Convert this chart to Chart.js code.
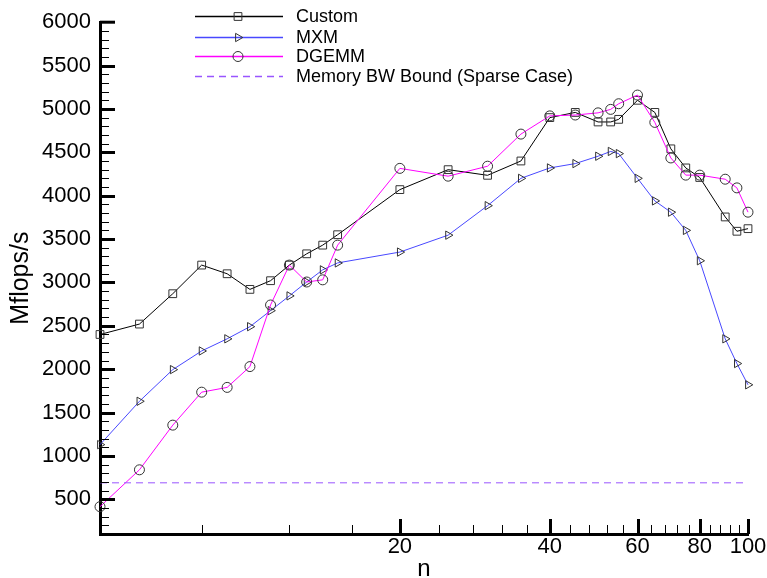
<!DOCTYPE html>
<html>
<head>
<meta charset="utf-8">
<script src="https://cdn.jsdelivr.net/npm/chart.js@4.4.1/dist/chart.umd.min.js"></script>
<style>
  html, body { margin: 0; padding: 0; background: #ffffff; }
  #wrap { width: 767px; height: 578px; position: relative; }
</style>
</head>
<body>
<div id="wrap"><canvas id="c" width="767" height="578"></canvas></div>
<script>
// ---- data ----
const nValues = [5, 6, 7, 8, 9, 10, 11, 12, 13, 14, 15, 20, 25, 30, 35, 40, 45, 50, 53, 55, 60, 65, 70, 75, 80, 90, 95, 100];
const customValues = [2400, 2520, 2870, 3200, 3100, 2920, 3020, 3200, 3330, 3430, 3550, 4070, 4300, 4235, 4400, 4900, 4960, 4850, 4850, 4880, 5100, 4960, 4540, 4320, 4210, 3755, 3590, 3620];
const mxmValues = [1130, 1630, 1995, 2210, 2350, 2490, 2675, 2845, 3005, 3145, 3225, 3350, 3545, 3885, 4200, 4320, 4370, 4455, 4510, 4485, 4200, 3940, 3810, 3600, 3250, 2350, 2065, 1820];
const dgemmValues = [415, 840, 1355, 1735, 1790, 2030, 2740, 3200, 3005, 3030, 3430, 4315, 4225, 4340, 4710, 4920, 4930, 4955, 4995, 5060, 5160, 4845, 4435, 4237, 4237, 4190, 4090, 3810];
const memBoundValue = 690;
const memBoundRange = [5, 100];
const seriesNames = ['Custom', 'MXM', 'DGEMM', 'Memory BW Bound (Sparse Case)'];
const yTickLabels = [500, 1000, 1500, 2000, 2500, 3000, 3500, 4000, 4500, 5000, 5500, 6000];
const xTickLabels = [20, 40, 60, 80, 100];
const xRange = [5, 100];
const yRange = [100, 6000];
const xTitle = 'n';
const yTitle = 'Mflops/s';

const FONT = '"Liberation Sans", Arial, Helvetica, sans-serif';
const toXY = (vals) => vals.map((v, i) => ({ x: nValues[i], y: v }));

const seriesStyle = [
  { color: '#000000', marker: 'rect', radius: 5.5, rotation: 0, dash: [] },
  { color: '#4848ff', marker: 'triangle', radius: 4.8, rotation: 90, dash: [] },
  { color: '#ff00ff', marker: 'circle', radius: 5, rotation: 0, dash: [] },
  { color: '#9955ff', marker: false, radius: 0, rotation: 0, dash: [7, 5] }
];

const datasets = [
  { label: seriesNames[0], data: toXY(customValues) },
  { label: seriesNames[1], data: toXY(mxmValues) },
  { label: seriesNames[2], data: toXY(dgemmValues) },
  { label: seriesNames[3], data: memBoundRange.map(x => ({ x: x, y: memBoundValue })) }
].map((d, i) => {
  const s = seriesStyle[i];
  return Object.assign(d, {
    borderColor: s.color,
    borderWidth: 1,
    borderDash: s.dash,
    backgroundColor: 'rgba(0,0,0,0)',
    pointStyle: s.marker,
    pointRadius: s.radius,
    pointRotation: s.rotation,
    pointBorderColor: '#333333',
    pointBackgroundColor: 'rgba(0,0,0,0)',
    pointBorderWidth: 1,
    pointHoverRadius: s.radius,
    tension: 0,
    clip: false,
    order: 3 - i
  });
});

// inward tick marks on both axes
const tickPlugin = {
  id: 'inwardTicks',
  afterDraw(chart) {
    const ctx = chart.ctx;
    const xs = chart.scales.x, ys = chart.scales.y;
    const ca = chart.chartArea;
    ctx.save();
    ctx.strokeStyle = '#000';
    for (let v = yRange[0] + 100; v < yRange[1]; v += 100) {
      const major = yTickLabels.includes(v);
      const py = Math.round(ys.getPixelForValue(v)) + 0.5;
      ctx.lineWidth = major ? 3 : 1;
      ctx.beginPath();
      ctx.moveTo(ca.left, py);
      ctx.lineTo(ca.left + (major ? 15 : 9), py);
      ctx.stroke();
    }
    {
      const py = ys.getPixelForValue(yRange[1]);
      ctx.lineWidth = 3;
      ctx.beginPath();
      ctx.moveTo(ca.left, py);
      ctx.lineTo(ca.left + 15, py);
      ctx.stroke();
    }
    for (let v = 8; v <= xRange[1]; v += 4) {
      const major = xTickLabels.includes(v);
      const px = Math.round(xs.getPixelForValue(v)) + 0.5;
      ctx.lineWidth = major ? 3 : 1;
      ctx.beginPath();
      ctx.moveTo(px, ca.bottom);
      ctx.lineTo(px, ca.bottom - (major ? 15 : 9));
      ctx.stroke();
    }
    ctx.restore();
  }
};

// legend in the upper area
const legendPlugin = {
  id: 'customLegend',
  afterDraw(chart) {
    const ctx = chart.ctx;
    const rows = [16, 37, 56, 76];
    const x0 = 195, x1 = 283, xm = 238, xt = 296;
    ctx.save();
    chart.data.datasets.forEach((ds, i) => {
      const y = rows[i];
      const s = seriesStyle[i];
      ctx.save();
      ctx.strokeStyle = s.color;
      ctx.lineWidth = 1.5;
      ctx.setLineDash(s.dash);
      ctx.beginPath();
      ctx.moveTo(x0, y + 0.5);
      ctx.lineTo(x1, y + 0.5);
      ctx.stroke();
      ctx.restore();
      if (s.marker) {
        ctx.save();
        ctx.strokeStyle = '#333333';
        ctx.fillStyle = 'rgba(0,0,0,0)';
        ctx.lineWidth = 1;
        Chart.helpers.drawPoint(ctx, { pointStyle: s.marker, radius: s.radius, rotation: s.rotation, borderWidth: 1 }, xm, y + 0.5);
        ctx.restore();
      }
      ctx.fillStyle = '#000';
      ctx.font = '18px ' + FONT;
      ctx.textAlign = 'left';
      ctx.textBaseline = 'middle';
      ctx.fillText(ds.label, xt, y + 1);
    });
    ctx.restore();
  }
};

new Chart(document.getElementById('c'), {
  type: 'line',
  data: { datasets: datasets },
  plugins: [tickPlugin, legendPlugin],
  options: {
    responsive: false,
    animation: false,
    devicePixelRatio: 1,
    layout: { padding: { top: 15, right: 19, left: 0, bottom: 0 } },
    plugins: { legend: { display: false }, tooltip: { enabled: false } },
    scales: {
      x: {
        type: 'logarithmic',
        min: xRange[0],
        max: xRange[1],
        afterBuildTicks(scale) { scale.ticks = xTickLabels.map(v => ({ value: v, major: false })); },
        afterFit(scale) { scale.height = 44; },
        grid: { display: true, drawOnChartArea: false, drawTicks: false },
        border: { display: true, width: 3, color: '#000' },
        ticks: {
          color: '#000',
          padding: 0,
          autoSkip: false,
          maxRotation: 0,
          font: { family: FONT, size: 22 },
          callback: (v) => String(v)
        },
        title: {
          display: true,
          text: xTitle,
          color: '#000',
          padding: 0,
          font: { family: FONT, size: 24, lineHeight: 0.75 }
        }
      },
      y: {
        type: 'linear',
        min: yRange[0],
        max: yRange[1],
        afterBuildTicks(scale) { scale.ticks = yTickLabels.map(v => ({ value: v })); },
        afterFit(scale) { scale.width = 100; },
        grid: { display: true, drawOnChartArea: false, drawTicks: false },
        border: { display: true, width: 3, color: '#000' },
        ticks: {
          color: '#000',
          padding: 9,
          autoSkip: false,
          font: { family: FONT, size: 22 },
          callback: (v) => String(v)
        },
        title: {
          display: true,
          text: yTitle,
          color: '#000',
          padding: { top: 6, bottom: 0 },
          font: { family: FONT, size: 25 }
        }
      }
    }
  }
});
</script>
</body>
</html>
